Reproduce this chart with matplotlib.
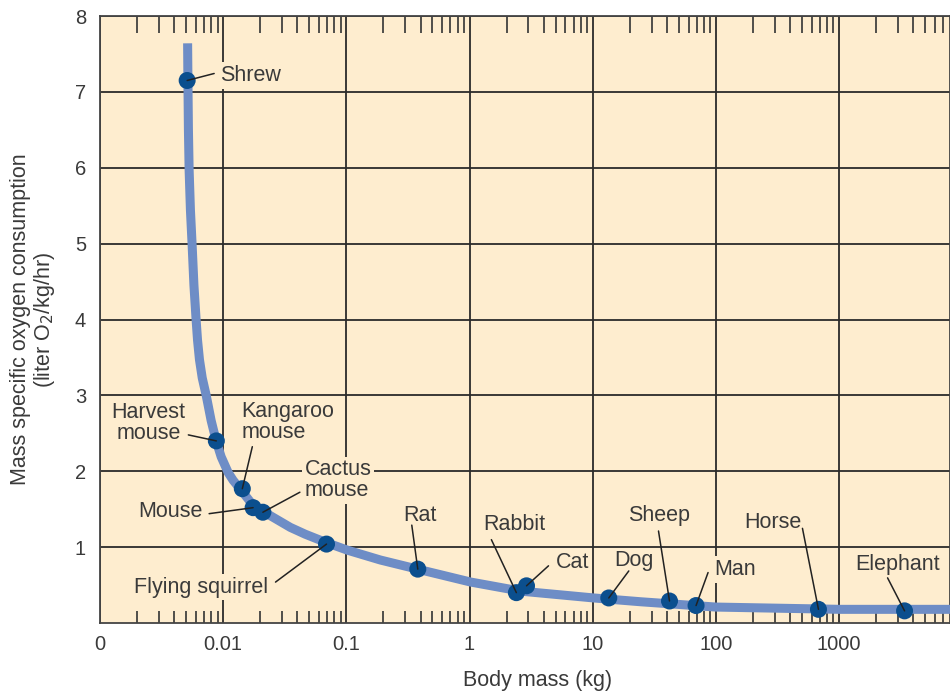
import matplotlib
matplotlib.use('Agg')
import matplotlib.pyplot as plt
from matplotlib.ticker import LogLocator, NullFormatter

# Curve
curve_mass = [0.005144, 0.005173, 0.005222, 0.005291, 0.005422, 0.005597, 0.005789, 0.006032,
              0.00619, 0.00642, 0.00676, 0.00728, 0.00798, 0.00877, 0.00963, 0.0110, 0.01205,
              0.0137, 0.0175, 0.025, 0.0351, 0.0464, 0.0687, 0.102, 0.189, 0.378, 1.02, 2.6,
              10.2, 24.5, 100, 1019, 8000]
curve_rate = [7.64, 7.15, 6.50, 5.97, 5.44, 4.98, 4.45, 3.99,
              3.73, 3.47, 3.23, 3.00, 2.67, 2.40, 2.19, 1.98, 1.88,
              1.77, 1.55, 1.40, 1.26, 1.17, 1.06, 0.96, 0.83, 0.71, 0.54, 0.42,
              0.33, 0.28, 0.21, 0.18, 0.18]

# Animals
animals = ['Shrew', 'Harvest\nmouse', 'Kangaroo\nmouse', 'Mouse', 'Cactus\nmouse',
           'Flying squirrel', 'Rat', 'Rabbit', 'Cat', 'Dog', 'Sheep', 'Man', 'Horse', 'Elephant']
body_mass = [0.0051, 0.0088, 0.0143, 0.0175, 0.021, 0.069, 0.38, 2.4, 2.9, 13.5, 42, 69, 680, 3400]
o2_rate = [7.15, 2.40, 1.77, 1.52, 1.46, 1.04, 0.71, 0.40, 0.49, 0.33, 0.29, 0.23, 0.18, 0.16]

xtick_vals = [0.001, 0.01, 0.1, 1, 10, 100, 1000]
xtick_labels = ['0', '0.01', '0.1', '1', '10', '100', '1000']
ytick_vals = [1, 2, 3, 4, 5, 6, 7, 8]

# label layout: text offset (px), alignment, leader start offset (px)
label_layout = [
    ((33, 5), 'left', (27, 7)),
    ((-68, 18), 'center', (-28, 6)),
    ((-1, 67), 'left', (10, 42)),
    ((-50, -4), 'right', (-44, -6)),
    ((42, 32), 'left', (37, 20)),
    ((-58, -43), 'right', (-51, -38)),
    ((2, 54), 'center', (-6, 44)),
    ((-2, 68), 'center', (-25, 53)),
    ((29, 23), 'left', (22, 20)),
    ((5, 37), 'left', (20, 27)),
    ((-10, 85), 'center', (-11, 70)),
    ((18, 36), 'left', (12, 33)),
    ((-17, 87), 'right', (-16, 81)),
    ((-7, 46), 'center', (-17, 33)),
]

bg = '#FEEDCF'
txt = '#3a3a3a'
plt.rcParams['font.family'] = ['Liberation Sans', 'DejaVu Sans']

fig = plt.figure(figsize=(9.5, 6.91), dpi=100)
ax = fig.add_axes([100 / 950, 68 / 691, 850 / 950, 607 / 691])
ax.set_facecolor(bg)
ax.set_xscale('log')
ax.set_xlim(0.001, 7950)
ax.set_ylim(0, 8)

ax.grid(which='major', color='#2b2b2b', lw=1.3, zorder=1)
ax.set_axisbelow(True)

ax.plot(curve_mass, curve_rate, color='#6E8DC6', lw=6.5, solid_capstyle='butt',
        solid_joinstyle='round', zorder=3)
ax.scatter(body_mass, o2_rate, s=150, color='#0B4F8E', edgecolors='none', zorder=4)

for name, m, r, (toff, ha, lstart) in zip(animals, body_mass, o2_rate, label_layout):
    ax.annotate('', xy=(m, r), xytext=lstart, textcoords='offset pixels',
                arrowprops=dict(arrowstyle='-', color='#222222', lw=1.1,
                                shrinkA=0, shrinkB=0, patchA=None),
                zorder=5)
    ax.annotate(name, xy=(m, r), xytext=toff, textcoords='offset pixels',
                ha=ha, va='center', fontsize=15.5, color=txt, linespacing=1.0,
                bbox=dict(boxstyle='square,pad=0.12', facecolor=bg, edgecolor='none'),
                zorder=2)

ax.set_xticks(xtick_vals)
ax.set_xticklabels(xtick_labels)
ax.xaxis.set_minor_locator(LogLocator(base=10, subs=range(2, 10), numticks=20))
ax.xaxis.set_minor_formatter(NullFormatter())
ax.set_yticks(ytick_vals)
ax.tick_params(axis='both', which='major', length=0, labelsize=14.5, labelcolor=txt)
ax.tick_params(axis='x', which='major', pad=9)
ax.tick_params(axis='y', which='major', pad=10)
ax.tick_params(axis='x', which='minor', direction='in', length=8.5, width=1.2,
               color='#333333', bottom=True, top=False)

sec = ax.secondary_xaxis('top')
sec.set_xticks([])
sec.xaxis.set_minor_locator(LogLocator(base=10, subs=range(2, 10), numticks=20))
sec.xaxis.set_minor_formatter(NullFormatter())
sec.tick_params(axis='x', which='minor', direction='in', length=12.5, width=1.2, color='#333333')
sec.spines['top'].set_visible(False)

for s in ax.spines.values():
    s.set_color('#444444')
    s.set_linewidth(1.3)

ax.set_xlabel('Body mass (kg)', fontsize=15.5, color=txt)
ax.xaxis.set_label_coords(0.515, -0.077)
ax.set_ylabel('Mass specific oxygen consumption\n(liter O$_2$/kg/hr)', fontsize=15.5,
              color=txt, linespacing=1.05)
ax.yaxis.set_label_coords(-0.051, 0.5)

fig.savefig('out.png', dpi=100)
